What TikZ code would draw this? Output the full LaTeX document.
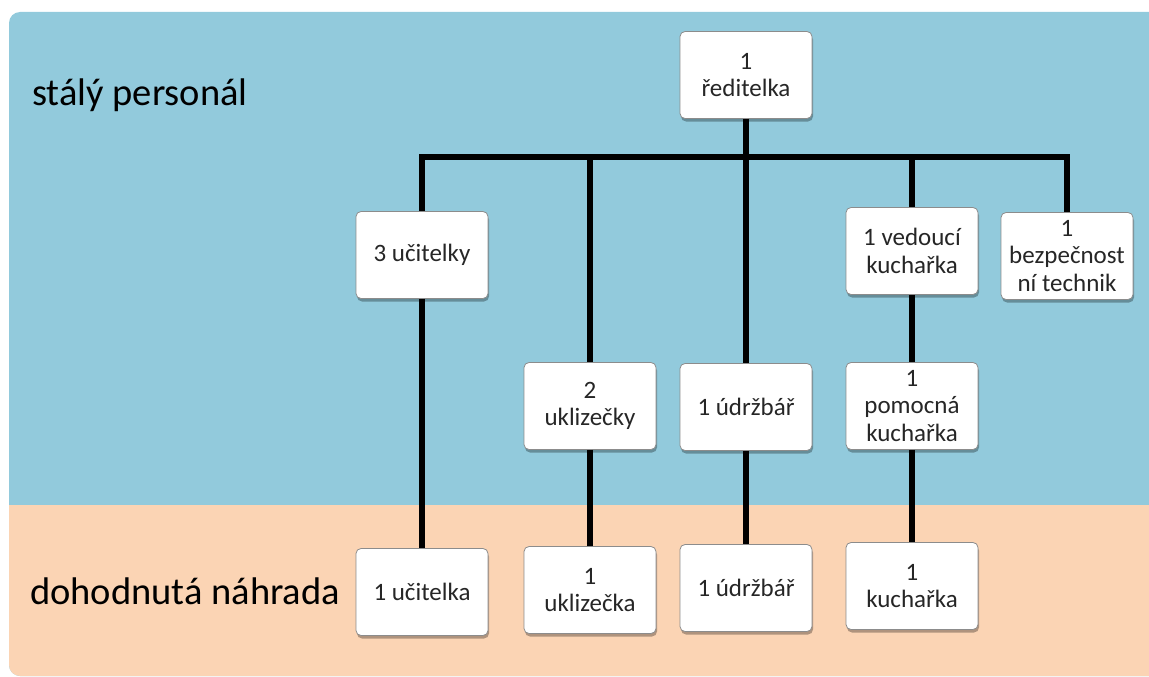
\documentclass[tikz,border=0pt]{standalone}
\usepackage{fontspec}
\setmainfont{Carlito}
\usetikzlibrary{shadows}
\definecolor{stalybg}{HTML}{92CADC}
\definecolor{dohodabg}{HTML}{FBD4B4}
\definecolor{boxedge}{HTML}{8C8C8C}
\begin{document}
\begin{tikzpicture}[x=1pt,y=-1pt,
  orgbox/.style={draw=boxedge, line width=0.8pt, fill=white, rounded corners=5pt,
    minimum width=132pt, minimum height=87pt, align=center, inner sep=2pt,
    font=\fontsize{25}{27.5}\selectfont, text=black!85,
    drop shadow={shadow xshift=1pt, shadow yshift=-3pt, opacity=0.3, fill=black}},
  grouplabel/.style={anchor=base west, inner sep=0pt, font=\fontsize{38.5}{44}\selectfont},
  link/.style={line width=6pt, black}]
  \useasboundingbox (0,0) rectangle (1149,677);
  \clip (0,0) rectangle (1149,677);

  % two background bands
  \fill[stalybg, rounded corners=11pt] (9,12) rectangle (1190,676);
  \fill[dohodabg, rounded corners=11pt] (9,505) rectangle (1190,676);
  \fill[dohodabg] (9,505) rectangle (1190,560);

  \node[grouplabel] (lstaly) at (32,106) {stálý personál};
  \node[grouplabel] (ldohoda) at (30,604) {dohodnutá náhrada};

  % permanent staff
  \node[orgbox] (reditelka) at (746,75) {1\\ředitelka};
  \node[orgbox] (ucitelky) at (422,255) {3 učitelky};
  \node[orgbox] (vedouci) at (912,251) {1 vedoucí\\kuchařka};
  \node[orgbox] (bezp) at (1067,256) {1\\bezpečnost\\ní technik};
  \node[orgbox] (uklizecky) at (590,406) {2\\uklizečky};
  \node[orgbox] (udrzbar) at (746,407) {1 údržbář};
  \node[orgbox] (pomocna) at (912,406) {1\\pomocná\\kuchařka};

  % agreed substitutes
  \node[orgbox] (ucitelka) at (422,592) {1 učitelka};
  \node[orgbox] (uklizecka) at (590,590) {1\\uklizečka};
  \node[orgbox] (udrzbar2) at (746,588) {1 údržbář};
  \node[orgbox] (kucharka) at (912,586) {1\\kuchařka};

  \coordinate (bar) at (0,157);

  % connectors
  \draw[link] (ucitelky.north) -- (ucitelky.north |- bar) -- (bezp.north |- bar) -- (bezp.north);
  \draw[link] (uklizecky.north |- bar) -- (uklizecky.north);
  \draw[link] (vedouci.north |- bar) -- (vedouci.north);
  \draw[link] (reditelka.south) -- (udrzbar.north);
  \draw[link] (ucitelky.south) -- (ucitelka.north);
  \draw[link] (uklizecky.south) -- (uklizecka.north);
  \draw[link] (udrzbar.south) -- (udrzbar2.north);
  \draw[link] (vedouci.south) -- (pomocna.north);
  \draw[link] (pomocna.south) -- (kucharka.north);
\end{tikzpicture}
\end{document}
